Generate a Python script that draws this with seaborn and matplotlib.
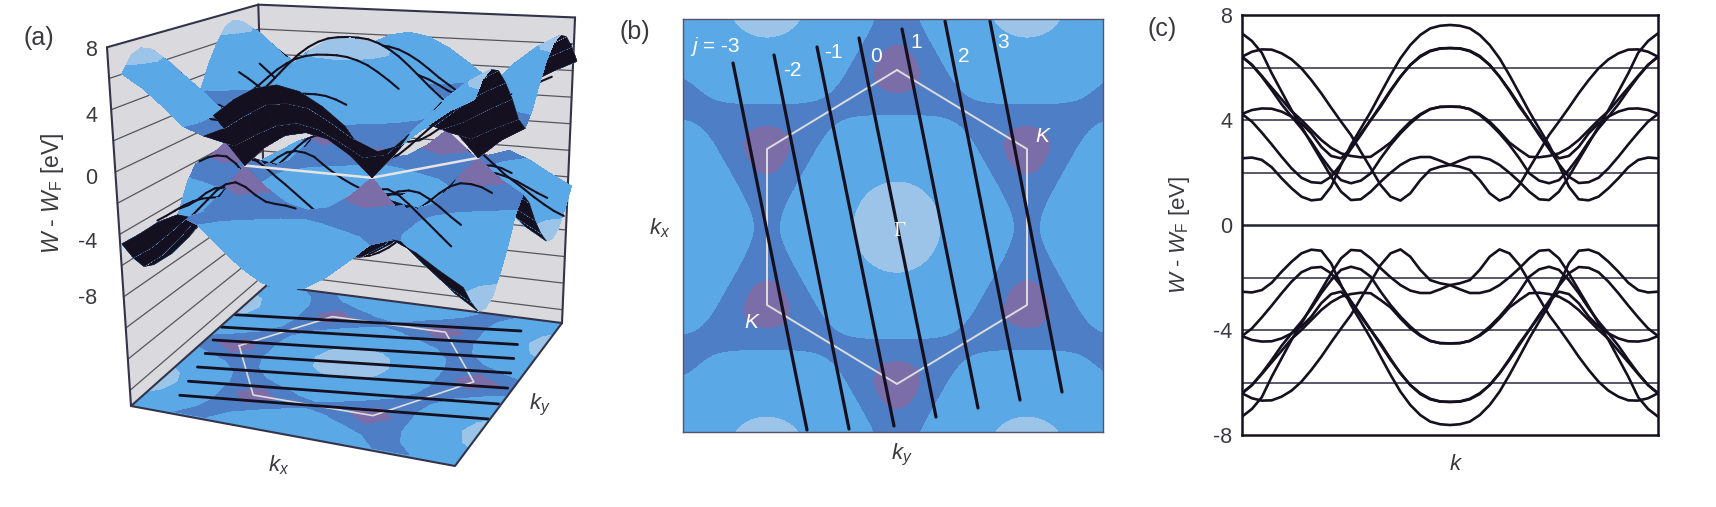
import numpy as np
import seaborn as sns
import matplotlib
matplotlib.use("Agg")
import matplotlib.pyplot as plt
from matplotlib.colors import ListedColormap, BoundaryNorm
from matplotlib.patches import Polygon

# band energy (eV), one quadrant: rows ky step, columns kx step
band_quadrant = np.array([
    [7.6, 7.3, 6.3, 4.9, 3.4, 2.5, 3.4, 4.9, 6.3],
    [7.3, 7.0, 6.0, 4.7, 3.1, 2.2, 3.1, 4.7, 6.0],
    [6.4, 6.1, 5.2, 3.9, 2.4, 1.3, 2.4, 3.9, 5.2],
    [5.1, 4.8, 4.1, 3.0, 1.6, 0.0, 1.6, 3.0, 4.1],
    [3.4, 3.3, 2.9, 2.4, 1.9, 1.6, 1.9, 2.4, 2.9],
    [1.6, 1.9, 2.4, 2.9, 3.3, 3.4, 3.3, 2.9, 2.4],
    [0.0, 1.6, 3.0, 4.1, 4.8, 5.1, 4.8, 4.1, 3.0],
    [1.3, 2.4, 3.9, 5.2, 6.1, 6.4, 6.1, 5.2, 3.9],
    [2.2, 3.1, 4.7, 6.0, 7.0, 7.3, 7.0, 6.0, 4.7],
])
grid_x = np.arange(-8, 9) * 26.0
grid_y = np.arange(-8, 9) * 26.11

# brillouin zone outline and cutting lines, map units with gamma at the origin
hex_x = [0, -130, -130, 0, 130, 130, 0]
hex_y = [157, 78, -78, -157, -78, 78, 157]
cut_j = [-3, -2, -1, 0, 1, 2, 3]
cut_x0 = [-164, -123, -80, -38, 5, 48, 93]
cut_y0 = [164, 172, 180, 189, 198, 206, 206]
cut_x1 = [-90, -48, -3, 39, 81, 123, 165]
cut_y1 = [-203, -202, -199, -190, -181, -173, -165]

# subbands in panel (c), left half only, right half is the -j strand mirrored
k_half = np.linspace(-1, 0, 22)
w_j = {
    0: [2.54, 2.57, 2.48, 2.20, 1.78, 1.40, 1.08, 0.94, 0.98, 1.46, 2.29, 3.05, 3.68, 4.32, 5.02, 5.71, 6.35, 6.86, 7.24, 7.49, 7.59, 7.62],
    1: [4.23, 3.94, 3.52, 3.07, 2.60, 2.16, 1.80, 1.63, 1.60, 1.84, 2.32, 2.90, 3.43, 4.00, 4.57, 5.14, 5.65, 6.10, 6.41, 6.62, 6.72, 6.74],
    -1: [4.23, 4.38, 4.44, 4.43, 4.32, 4.13, 3.87, 3.49, 2.98, 2.63, 2.54, 2.92, 3.49, 4.00, 4.51, 5.10, 5.65, 6.10, 6.44, 6.64, 6.73, 6.74],
    2: [6.41, 6.10, 5.65, 5.14, 4.60, 4.13, 3.68, 3.17, 2.60, 2.10, 1.71, 1.59, 1.69, 1.97, 2.54, 3.05, 3.49, 3.87, 4.19, 4.41, 4.50, 4.51],
    -2: [6.41, 6.10, 5.68, 5.23, 4.79, 4.34, 4.00, 3.62, 3.24, 2.94, 2.73, 2.63, 2.58, 2.60, 2.86, 3.14, 3.56, 3.94, 4.22, 4.42, 4.50, 4.51],
    3: [7.30, 7.01, 6.56, 5.78, 5.08, 4.38, 3.75, 3.11, 2.48, 1.84, 1.27, 0.95, 0.98, 1.27, 1.65, 1.99, 2.29, 2.50, 2.59, 2.59, 2.45, 2.29],
    -3: [6.41, 6.60, 6.69, 6.68, 6.54, 6.31, 5.97, 5.52, 5.02, 4.47, 3.94, 3.43, 2.79, 2.16, 1.52, 1.08, 0.93, 1.21, 1.71, 2.10, 2.22, 2.29],
}
grid_levels = [-6, -4, -2, 2, 4, 6]
w_ticks = [8, 4, 0, -4, -8]

# colours
LIGHT, DARK, PURPLE, PALE = "#5aa8e6", "#4e7fc6", "#7a6da8", "#9cc4e8"
WALL, INK, TEXT = "#dadade", "#15101f", "#3a3a3e"
levels = [-1, 1.6, 2.9, 6.5, 9]
band_colors = [PURPLE, DARK, LIGHT, PALE]

sns.set_style("white")
plt.rcParams["font.family"] = "Liberation Sans"
plt.rcParams["mathtext.fontset"] = "custom"
plt.rcParams["mathtext.rm"] = "Liberation Sans"
plt.rcParams["mathtext.it"] = "Liberation Sans:italic"

FW, FH = 1716, 507
fig = plt.figure(figsize=(FW / 100, FH / 100), dpi=100)


def axes_px(left, top, right, bottom):
    return fig.add_axes([left / FW, 1 - bottom / FH, (right - left) / FW, (bottom - top) / FH])


band = np.vstack([band_quadrant[:0:-1], band_quadrant])
band = np.hstack([band[:, :0:-1], band])
k_full = np.concatenate([k_half, -k_half[-2::-1]])


def subband(j):
    return np.concatenate([w_j[j], np.array(w_j[-j])[-2::-1]])


# panel (a) lives in figure pixels, the box is a perspective view
ax = fig.add_axes([0, 0, 1, 1])
ax.set_xlim(0, FW)
ax.set_ylim(FH, 0)
ax.axis("off")

corners = [(131, 406), (455, 466), (267, 285), (562, 323)]
rows, rhs = [], []
for (u, v), (px, py) in zip([(0, 0), (1, 0), (0, 1), (1, 1)], corners):
    rows.append([u, v, 1, 0, 0, 0, -u * px, -v * px])
    rows.append([0, 0, 0, u, v, 1, -u * py, -v * py])
    rhs += [px, py]
H = np.append(np.linalg.solve(np.array(rows, float), np.array(rhs, float)), 1).reshape(3, 3)


def project(x, y, w=-15.0):
    x, y, w = np.asarray(x, float), np.asarray(y, float), np.asarray(w, float)
    u = (208 - y) / 413
    v = (x + 214) / 420
    d = H[2, 0] * u + H[2, 1] * v + 1
    fx = (H[0, 0] * u + H[0, 1] * v + H[0, 2]) / d
    fy = (H[1, 0] * u + H[1, 1] * v + H[1, 2]) / d
    c = 0.092 + 0.000184 * (fy - 406)
    h = (w + 15) / 23
    return fx + (fx - 392) * c * h, fy + (fy - 4305) * c * h


def box(x, y, w):
    return tuple(float(p) for p in project(x, y, w))


XL, XR, YT, YB = -214, 206, 208, -205
ax.add_patch(Polygon([box(XL, YT, -15), box(XL, YT, 8), box(XR, YT, 8), box(XR, YT, -15)], fc=WALL, ec="none", zorder=1))
ax.add_patch(Polygon([box(XR, YT, -15), box(XR, YT, 8), box(XR, YB, 8), box(XR, YB, -15)], fc=WALL, ec="none", zorder=1))
for w in range(-14, 8, 2):
    a, b, c = box(XL, YT, w), box(XR, YT, w), box(XR, YB, w)
    ax.plot([a[0], b[0], c[0]], [a[1], b[1], c[1]], color="#55555f", lw=0.9, zorder=2)
edge = dict(color="#33334a", lw=1.5, zorder=5)
for a, b in [((XL, YT, -15), (XL, YT, 8)), ((XL, YT, 8), (XR, YT, 8)), ((XR, YT, 8), (XR, YB, 8)),
             ((XR, YB, 8), (XR, YB, -15)), ((XR, YT, -15), (XR, YT, 8)), ((XL, YT, -15), (XR, YT, -15)),
             ((XR, YT, -15), (XR, YB, -15))]:
    pa, pb = box(*a), box(*b)
    ax.plot([pa[0], pb[0]], [pa[1], pb[1]], **edge)

# floor map
floor = Polygon([box(XL, YT, -15), box(XL, YB, -15), box(XR, YB, -15), box(XR, YT, -15)], fc=LIGHT, ec="none", zorder=3)
ax.add_patch(floor)
gx, gy = np.meshgrid(grid_x, grid_y)
fx, fy = project(gx, gy)
cs = ax.contourf(fx, fy, band, levels=levels, colors=band_colors, zorder=3.2)
cs.set_clip_path(floor)
ax.plot(*project(hex_x, hex_y), color="#dcdcdc", lw=1.2, zorder=3.4)
for i in range(len(cut_j)):
    lx, ly = project([cut_x0[i], cut_x1[i]], [cut_y0[i], cut_y1[i]])
    ax.plot(lx, ly, color=INK, lw=2.0, zorder=3.5)
a, b, c = box(XL, YT, -15), box(XL, YB, -15), box(XR, YB, -15)
ax.plot([a[0], b[0], c[0]], [a[1], b[1], c[1]], color="#33334a", lw=1.5, zorder=4)

# the front strip of the upper sheet is kept only around the ridge
front_rows = {0: 3}


def draw_sheet(sign, base, taper):
    wz = sign * band
    sx, sy = project(gx, gy, wz)
    for n, ix in enumerate(range(len(grid_x) - 2, -1, -1)):
        z = base + n
        half = front_rows.get(ix, 8) if taper else 8
        r0, r1 = 8 - half, 8 + half + 1
        ax.contourf(sx[r0:r1, ix:ix + 2], sy[r0:r1, ix:ix + 2], band[r0:r1, ix:ix + 2],
                    levels=levels, colors=band_colors, zorder=z)
        for iy in range(r0, r1 - 1):
            qx = [sx[iy, ix], sx[iy, ix + 1], sx[iy + 1, ix + 1], sx[iy + 1, ix]]
            qy = [sy[iy, ix], sy[iy, ix + 1], sy[iy + 1, ix + 1], sy[iy + 1, ix]]
            area = 0.5 * ((qx[0] - qx[2]) * (qy[1] - qy[3]) - (qx[1] - qx[3]) * (qy[0] - qy[2]))
            if area > 0:
                ax.fill(qx, qy, color=INK, lw=0.5, zorder=z + 0.1)


def draw_cuts(sign, base, taper):
    for j in cut_j:
        w = sign * subband(j)
        y = -242 * k_full - 8.8 * j
        x = 42.5 * j - 0.205 * y
        sx, sy = project(x, y, w)
        for s in range(len(k_full) - 1):
            if abs(k_full[s]) > 0.8 or abs(k_full[s + 1]) > 0.8:
                continue
            if taper and x[s] < -125:
                continue
            n = int((208 - max(x[s], x[s + 1])) / 26)
            ax.plot(sx[s:s + 2], sy[s:s + 2], color=INK, lw=1.5, solid_capstyle="round", zorder=base + n + 0.5)


draw_sheet(-1, 10, False)
draw_cuts(-1, 10, False)
hx, hy = project(hex_x, hex_y, np.zeros(7))
ax.plot(hx, hy, color="#e4e4e4", lw=1.8, zorder=35)
draw_sheet(1, 40, True)
draw_cuts(1, 40, True)

txt = dict(color=TEXT, ha="center", va="center")
ax.text(39, 38, "(a)", fontsize=18, **txt)
ax.text(635, 32, "(b)", fontsize=18, **txt)
ax.text(1162, 29, "(c)", fontsize=18, **txt)
for w, y in zip(w_ticks, [50, 117, 179, 243, 299]):
    ax.text(97, y, str(w), fontsize=15.5, color=TEXT, ha="right", va="center")
w_label = r"$\mathit{W}$ - $\mathit{W}_{\mathrm{F}}$ [eV]"
ax.text(53, 193, w_label, fontsize=16.5, rotation=90, **txt)
ax.text(1180, 235, w_label, fontsize=16, rotation=90, **txt)
ax.text(279, 465, r"$\mathit{k}_{\mathit{x}}$", fontsize=16, **txt)
ax.text(540, 405, r"$\mathit{k}_{\mathit{y}}$", fontsize=16, **txt)
ax.text(660, 228, r"$\mathit{k}_{\mathit{x}}$", fontsize=16, **txt)
ax.text(902, 455, r"$\mathit{k}_{\mathit{y}}$", fontsize=16, **txt)
ax.text(1456, 465, r"$\mathit{k}$", fontsize=16, **txt)

# panel (b)
ax_b = axes_px(683, 19, 1103, 432)
cmap = ListedColormap(band_colors)
ax_b.imshow(band, origin="lower", extent=(-221, 221, -222.0, 222.0), aspect="auto", cmap=cmap,
            norm=BoundaryNorm(levels, cmap.N), interpolation="bicubic", interpolation_stage="data")
sns.lineplot(x=hex_x, y=hex_y, sort=False, estimator=None, color="#dcdcdc", lw=1.4, ax=ax_b)
for i in range(len(cut_j)):
    sns.lineplot(x=[cut_x0[i], cut_x1[i]], y=[cut_y0[i], cut_y1[i]], sort=False, estimator=None, color=INK, lw=2.3, ax=ax_b)
ax_b.set_xlim(XL, XR)
ax_b.set_ylim(YB, YT)
ax_b.set_xticks([])
ax_b.set_yticks([])
for s in ax_b.spines.values():
    s.set_color("#55556a")
    s.set_linewidth(1.0)
white = dict(color="white", ha="center", va="center", fontsize=15)
ax_b.text(-182, 180, r"$\mathit{j}$ = -3", **white)
for lab, x, y in [("-2", -105, 157), ("-1", -64, 175), ("0", -21, 171), ("1", 19, 185), ("2", 67, 171), ("3", 106, 185)]:
    ax_b.text(x, y, lab, **white)
ax_b.text(-145, -95, r"$\mathit{K}$", **white)
ax_b.text(146, 91, r"$\mathit{K}$", **white)
ax_b.text(2, -5, "\u0393", color="white", ha="center", va="center", fontsize=15, family="Liberation Serif")

# panel (c)
ax_c = axes_px(1242, 15, 1658, 435)
for w in grid_levels:
    ax_c.axhline(w, color="#3c3c50", lw=1.2)
ax_c.axhline(0, color="#222230", lw=1.8)
for j in cut_j:
    sns.lineplot(x=k_full, y=subband(j), sort=False, estimator=None, color=INK, lw=1.9, ax=ax_c)
    sns.lineplot(x=k_full, y=-subband(j), sort=False, estimator=None, color=INK, lw=1.9, ax=ax_c)
ax_c.set_xlim(-1, 1)
ax_c.set_ylim(-8, 8)
ax_c.set_xticks([])
ax_c.set_yticks(w_ticks)
ax_c.set_yticklabels([str(t) for t in w_ticks], fontsize=15.5, color=TEXT)
ax_c.tick_params(axis="y", length=0, pad=7)
for s in ax_c.spines.values():
    s.set_color("#15101f")
    s.set_linewidth(1.8)

fig.savefig("out.png", dpi=100)
